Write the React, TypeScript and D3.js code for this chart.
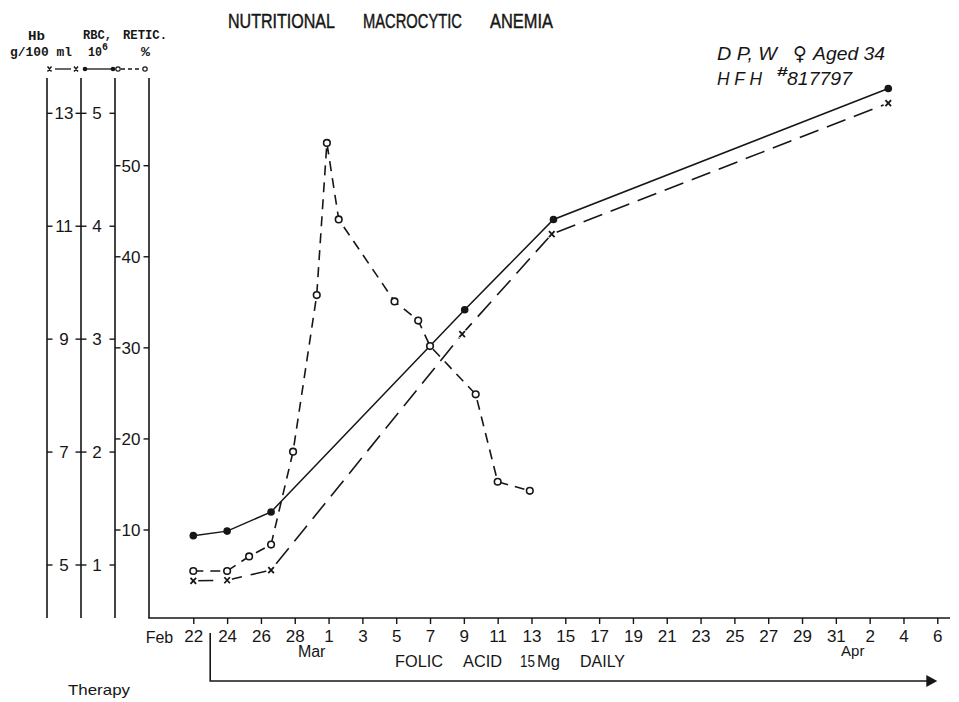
import React, { useEffect, useRef } from "react";
import * as d3 from "d3";

// days counted from Feb 22 (leap year: 28 -> 1 Mar is two days)
const hbData: [number, number][] = [
  [0, 4.72], [2, 4.73], [4.6, 4.91], [15.9, 9.09], [21.2, 10.86], [41.1, 13.18],
];
const rbcData: [number, number][] = [
  [0, 1.26], [2, 1.3], [4.6, 1.47], [16.05, 3.26], [21.3, 4.06], [41.1, 5.22],
];
const reticData: [number, number][] = [
  [0, 5.5], [2, 5.5], [3.3, 7.1], [4.6, 8.4], [5.9, 18.6], [7.3, 35.8], [7.9, 52.5],
  [8.6, 44.1], [11.9, 35.1], [13.3, 33], [14, 30.2], [16.7, 24.9], [18, 15.3], [19.9, 14.3],
];

const hbTicks = [5, 7, 9, 11, 13];
const rbcTicks = [1, 2, 3, 4, 5];
const reticTicks = [10, 20, 30, 40, 50];
const dayTicks = [0, 2, 4, 6, 8, 10, 12, 14, 16, 18, 20, 22, 24, 26, 28, 30, 32, 34, 36, 38, 40, 42, 44];
const dayLabels = ["22", "24", "26", "28", "1", "3", "5", "7", "9", "11", "13", "15", "17", "19", "21", "23", "25", "27", "29", "31", "2", "4", "6"];
const monthLabels: [string, number][] = [
  ["Feb", -2],
  ["Mar", 7],
  ["Apr", 39],
];
const therapyStart = 1;
const therapyEnd = 44;

const App = () => {
  const ref = useRef<SVGSVGElement>(null);

  useEffect(() => {
    const ink = "#161616";
    const sans = "'Liberation Sans', Arial, 'DejaVu Sans', sans-serif";
    const mono = "'Liberation Mono', 'DejaVu Sans Mono', monospace";
    const top = 78;
    const bottom = 618;
    const scaleLines = [47, 81, 115, 149];

    const svg = d3.select(ref.current);
    svg.selectAll("*").remove();

    const x = d3.scaleLinear().domain([0, 44]).range([193.3, 937.3]);
    const yHb = d3.scaleLinear().domain([5, 13]).range([565, 113.3]);
    const yRbc = d3.scaleLinear().domain([1, 5]).range([565, 113.3]);
    const yRet = d3.scaleLinear().domain([10, 50]).range([530, 165.7]);

    // vertical scale bars + baseline
    scaleLines.forEach((lx) =>
      svg.append("line").attr("x1", lx).attr("x2", lx).attr("y1", top).attr("y2", bottom)
        .attr("stroke", ink).attr("stroke-width", 1.6),
    );
    svg.append("line").attr("x1", 148.2).attr("x2", 950).attr("y1", bottom).attr("y2", bottom)
      .attr("stroke", ink).attr("stroke-width", 1.6);

    const sideAxis = (ticks: number[], y: d3.ScaleLinear<number, number>, left: number, right: number, labelX: number) => {
      ticks.forEach((t) => {
        const yy = y(t);
        svg.append("line").attr("x1", left).attr("x2", left + 5.5).attr("y1", yy).attr("y2", yy)
          .attr("stroke", ink).attr("stroke-width", 1.4);
        svg.append("line").attr("x1", right - 5.5).attr("x2", right).attr("y1", yy).attr("y2", yy)
          .attr("stroke", ink).attr("stroke-width", 1.4);
        svg.append("text").attr("x", labelX).attr("y", yy).attr("dy", "0.36em")
          .attr("text-anchor", "middle").attr("font-family", sans).attr("font-size", 17)
          .attr("fill", ink).text(String(t));
      });
    };
    sideAxis(hbTicks, yHb, 47, 81, 64);
    sideAxis(rbcTicks, yRbc, 81, 115, 97);
    sideAxis(reticTicks, yRet, 115, 149, 131);

    // date axis
    const gx = svg.append("g").attr("transform", `translate(0,${bottom})`)
      .call(
        d3.axisBottom(x).tickValues(dayTicks).tickFormat((_, i) => dayLabels[i])
          .tickSize(6).tickPadding(6).tickSizeOuter(0),
      );
    gx.select(".domain").remove();
    gx.attr("font-size", 17).attr("font-family", sans).attr("color", ink);
    gx.selectAll("line").attr("stroke-width", 1.4);

    monthLabels.forEach(([label, day]) => {
      const baseline = label === "Feb" ? 643 : label === "Mar" ? 657 : 656;
      svg.append("text").attr("x", x(day)).attr("y", baseline)
        .attr("text-anchor", "middle").attr("font-family", sans)
        .attr("font-size", label === "Apr" ? 15 : 16).attr("fill", ink).text(label);
    });

    // series
    const line = (y: d3.ScaleLinear<number, number>) =>
      d3.line<[number, number]>().x((d) => x(d[0])).y((d) => y(d[1]));

    svg.append("path").datum(rbcData).attr("d", line(yRbc)).attr("fill", "none")
      .attr("stroke", ink).attr("stroke-width", 1.5);
    svg.append("path").datum(hbData).attr("d", line(yHb)).attr("fill", "none")
      .attr("stroke", ink).attr("stroke-width", 1.6).attr("stroke-dasharray", "20,9");
    svg.append("path").datum(reticData).attr("d", line(yRet)).attr("fill", "none")
      .attr("stroke", ink).attr("stroke-width", 1.6).attr("stroke-dasharray", "10,7");

    // markers
    svg.append("g").selectAll("circle").data(hbData).join("circle")
      .attr("cx", (d) => x(d[0])).attr("cy", (d) => yHb(d[1])).attr("r", 5).attr("fill", "#fff");
    svg.append("g").selectAll("path").data(hbData).join("path")
      .attr("transform", (d) => `translate(${x(d[0])},${yHb(d[1])})`)
      .attr("d", "M-2.8,-3L2.8,3M2.8,-3L-2.8,3").attr("stroke", ink).attr("stroke-width", 1.8);

    svg.append("g").selectAll("circle").data(reticData).join("circle")
      .attr("cx", (d) => x(d[0])).attr("cy", (d) => yRet(d[1])).attr("r", 3.3)
      .attr("fill", "#fff").attr("stroke", ink).attr("stroke-width", 1.6);

    svg.append("g").selectAll("circle").data(rbcData).join("circle")
      .attr("cx", (d) => x(d[0])).attr("cy", (d) => yRbc(d[1])).attr("r", 3.8).attr("fill", ink);

    // text helper: fits a word into its measured span
    const word = (t: string, x0: number, x1: number, y: number, size: number, family: string, extra: Record<string, string | number> = {}) => {
      const el = svg.append("text").attr("x", x0).attr("y", y).attr("font-family", family)
        .attr("font-size", size).attr("fill", ink).attr("textLength", x1 - x0)
        .attr("lengthAdjust", "spacingAndGlyphs").text(t);
      Object.entries(extra).forEach(([k, v]) => el.attr(k, v));
      return el;
    };

    // title
    const heavy = { stroke: ink, "stroke-width": 0.45 };
    word("NUTRITIONAL", 228, 335, 28, 20, sans, heavy);
    word("MACROCYTIC", 363, 462, 28, 20, sans, heavy);
    word("ANEMIA", 490, 553, 28, 20, sans, heavy);

    // scale headers
    const bold = { "font-weight": "bold" };
    word("Hb", 28, 45, 40, 12, mono, bold);
    word("g/100 ml", 10, 72, 56, 13, mono, bold);
    word("RBC,", 83, 112, 39, 12, mono, bold);
    word("RETIC.", 123, 167, 39, 12, mono, bold);
    word("10", 88, 102, 56, 13, mono, bold);
    word("6", 102, 108, 50, 10, mono, bold);
    word("%", 141, 150, 56, 12, mono, bold);

    // legend row
    const ly = 69;
    svg.append("path").attr("d", "M47.5,66.5L51.5,71.5M51.5,66.5L47.5,71.5M74,66.5L78,71.5M78,66.5L74,71.5")
      .attr("stroke", ink).attr("stroke-width", 1.4);
    svg.append("line").attr("x1", 55).attr("x2", 71).attr("y1", ly).attr("y2", ly).attr("stroke", ink).attr("stroke-width", 1.3);
    svg.append("line").attr("x1", 85).attr("x2", 113).attr("y1", ly).attr("y2", ly).attr("stroke", ink).attr("stroke-width", 1.3);
    [85, 113].forEach((cx) => svg.append("circle").attr("cx", cx).attr("cy", ly).attr("r", 2.3).attr("fill", ink));
    svg.append("line").attr("x1", 121).attr("x2", 142).attr("y1", ly).attr("y2", ly).attr("stroke", ink)
      .attr("stroke-width", 1.3).attr("stroke-dasharray", "4,3");
    [118, 145].forEach((cx) => svg.append("circle").attr("cx", cx).attr("cy", ly).attr("r", 2.2)
      .attr("fill", "#fff").attr("stroke", ink).attr("stroke-width", 1.2));

    // patient annotation
    const it = { "font-style": "italic" };
    word("D P, W", 717, 777, 60, 18, sans, it);
    svg.append("text").attr("x", 800).attr("y", 60).attr("text-anchor", "middle")
      .attr("font-family", "'DejaVu Sans', sans-serif").attr("font-size", 19).attr("fill", ink).text("♀");
    word("Aged 34", 813, 885, 60, 18, sans, it);
    word("H F H", 717, 762, 85, 18, sans, it);
    word("#", 777, 788, 76, 13, sans, { "font-weight": "bold" });
    word("817797", 787, 852, 85, 18, sans, it);

    // therapy bracket
    const yArrow = 681;
    svg.append("path")
      .attr("d", `M${x(therapyStart)},633V${yArrow}H${x(therapyEnd) - 8}`)
      .attr("fill", "none").attr("stroke", ink).attr("stroke-width", 1.6);
    svg.append("path")
      .attr("d", `M${x(therapyEnd) - 11},${yArrow - 6}L${x(therapyEnd)},${yArrow}L${x(therapyEnd) - 11},${yArrow + 6}Z`)
      .attr("fill", ink);
    word("FOLIC", 395, 443, 667, 16, sans);
    word("ACID", 463, 502, 667, 16, sans);
    word("15", 520, 535, 667, 16, sans);
    word("Mg", 537, 560, 667, 16, sans);
    word("DAILY", 580, 625, 667, 16, sans);
    word("Therapy", 68, 130, 695, 15, sans);
  }, []);

  return (
    <svg
      ref={ref}
      width={959}
      height={702}
      style={{ position: "absolute", left: 0, top: 0, background: "#fff", display: "block" }}
    />
  );
};

export default App;
